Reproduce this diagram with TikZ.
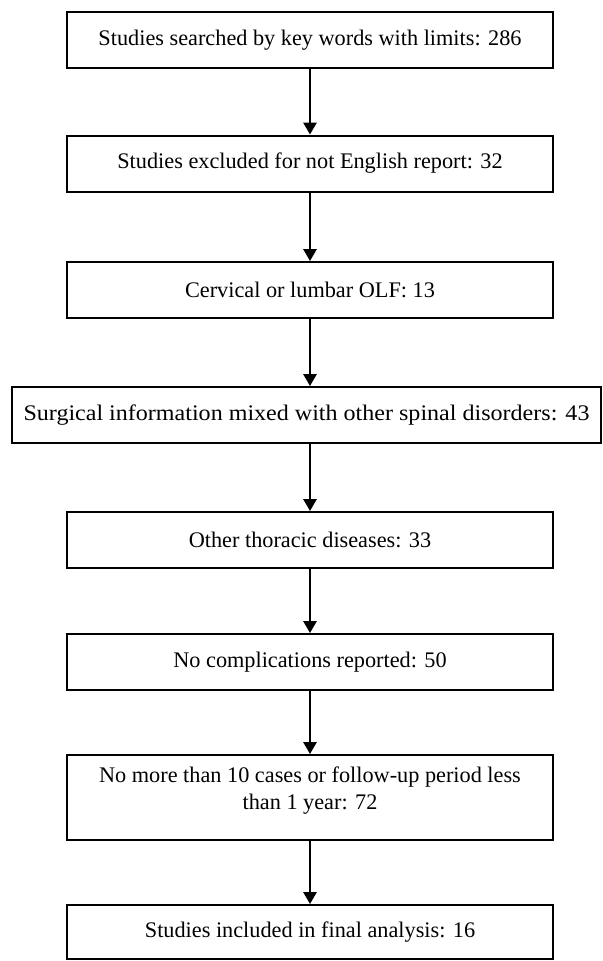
\documentclass[tikz,border=0pt]{standalone}
\usepackage{fontspec}
\setmainfont{Liberation Serif}
\usetikzlibrary{arrows.meta}
\begin{document}
\begin{tikzpicture}[x=0.75pt,y=-0.75pt,
  box/.style={draw, line width=1.5pt, rectangle, inner sep=0pt, align=center,
    minimum width=364.5pt, minimum height=42pt,
    font=\fontsize{16.7}{20.3}\selectfont},
  arr/.style={-{Triangle[length=9pt,width=10pt]}, line width=1.5pt}]
\useasboundingbox (0,0) rectangle (603,961);
\node[box] (b1) at (310,40) {Studies searched by key words with limits: 286};
\node[box] (b2) at (310,163.5) {Studies excluded for not English report: 32};
\node[box] (b3) at (310,290) {Cervical or lumbar OLF: 13};
\node[box, minimum width=441.75pt, font=\fontsize{16.7}{20.3}\selectfont\addfontfeature{FakeStretch=1.08}] (b4) at (306.5,415) {Surgical information mixed with other spinal disorders: 43};
\node[box] (b5) at (310,540) {Other thoracic diseases: 33};
\node[box] (b6) at (310,662) {No complications reported: 50};
\node[box, minimum height=63.75pt] (b7) at (310,797.5) {No more than 10 cases or follow-up period less\\than 1 year: 72\\[-6pt]};
\node[box, minimum height=40.5pt] (b8) at (310,932) {Studies included in final analysis: 16};
\draw[arr] (b1.south) -- (b2.north);
\draw[arr] (b2.south) -- (b3.north);
\draw[arr] (b3.south) -- (b3.south |- b4.north);
\draw[arr] (b3.south |- b4.south) -- (b5.north);
\draw[arr] (b5.south) -- (b6.north);
\draw[arr] (b6.south) -- (b7.north);
\draw[arr] (b7.south) -- (b8.north);
\end{tikzpicture}
\end{document}
